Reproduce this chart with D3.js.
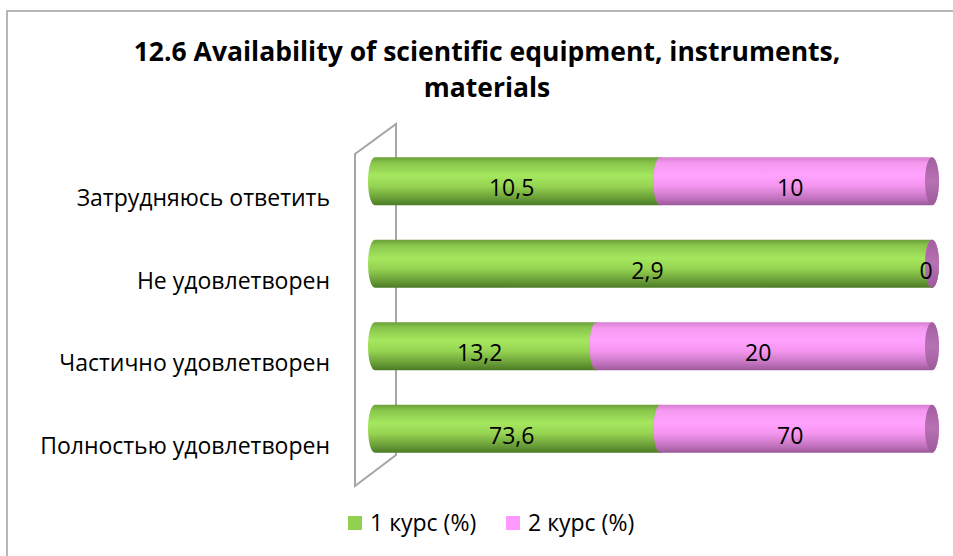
<!DOCTYPE html>
<html>
<head>
	<meta charset="utf-8">
	<title>12.6 Availability</title>
	<script src="https://cdn.jsdelivr.net/npm/d3@7"></script>
	<style>
		body{ margin:0; background:#fff; }
		svg text{ font-family: "Open Sans", Lato, sans-serif; fill:#000; }
	</style>
</head>
<body>
<div id="chart"></div>
<script>
	// data
	var categories = ['Полностью удовлетворен', 'Частично удовлетворен', 'Не удовлетворен', 'Затрудняюсь ответить'];
	var course1 = [73.6, 13.2, 2.9, 10.5];
	var course2 = [70, 20, 0, 10];
	var seriesNames = ['1 курс (%)', '2 курс (%)'];
	var titleLines = ['12.6 Availability of scientific equipment, instruments,', 'materials'];

	var W = 953, H = 556;
	var svg = d3.select('#chart').append('svg').attr('width', W).attr('height', H);

	var rows = categories.map(function(c, i){ return {cat:c, s0:course1[i], s1:course2[i]}; });
	var stack = d3.stack().keys(['s0', 's1']).offset(d3.stackOffsetExpand);
	var layers = stack(rows);

	var x = d3.scaleLinear().domain([0, 1]).range([375, 932]);
	var y = d3.scaleBand().domain(categories).range([470, 140]).paddingInner(0.418).paddingOuter(0.209);
	var rx = 7;

	var defs = svg.append('defs');
	function grad(id, stops){
		var g = defs.append('linearGradient').attr('id', id).attr('x1', 0).attr('y1', 0).attr('x2', 0).attr('y2', 1);
		stops.forEach(function(s){ g.append('stop').attr('offset', s[0]).attr('stop-color', s[1]); });
	}
	grad('g0', [['0%','#6a9f37'],['12%','#88c64c'],['38%','#a5e75e'],['60%','#96d452'],['85%','#6a9e38'],['100%','#4b7b25']]);
	grad('g1', [['0%','#d77ed0'],['12%','#f499ef'],['38%','#ffa2ff'],['60%','#f495ef'],['85%','#c474c0'],['100%','#9a5a98']]);
	grad('c0', [['0%','#6f9c40'],['50%','#86b854'],['100%','#5f8a35']]);
	grad('c1', [['0%','#a25ea0'],['50%','#b672b3'],['100%','#9c5a9a']]);

	// outer border
	svg.append('rect').attr('x', 7).attr('y', 11).attr('width', 980).attr('height', 580)
		.attr('fill', 'none').attr('stroke', '#a0a0a0').attr('stroke-width', 1.5);

	// title
	svg.append('text').attr('x', 487).attr('y', 61).attr('text-anchor', 'middle')
		.style('font-size', '26.5px').style('font-weight', 'bold')
		.selectAll('tspan').data(titleLines).enter().append('tspan')
		.attr('x', 487).attr('dy', function(d, i){ return i ? 36 : 0; })
		.text(function(d){ return d; });

	// side wall
	var wall = svg.append('g').attr('stroke', '#a6a6a6').attr('stroke-width', 2).attr('fill', 'none');
	wall.append('path').attr('d', 'M355,486 L355,154 L396,124 L396,455 Z');

	// cylinders
	function body(a, b, t, h){
		return 'M' + a + ',' + t + ' L' + b + ',' + t +
			' A' + rx + ',' + (h/2) + ' 0 0 1 ' + b + ',' + (t + h) +
			' L' + a + ',' + (t + h) +
			' A' + rx + ',' + (h/2) + ' 0 0 1 ' + a + ',' + t + ' Z';
	}
	var h = y.bandwidth();
	layers.forEach(function(layer, li){
		var g = svg.append('g');
		g.selectAll('path.body').data(layer).enter().append('path')
			.attr('class', 'body')
			.attr('d', function(d){ return body(x(d[0]), x(d[1]), y(d.data.cat), h); })
			.attr('fill', 'url(#g' + li + ')');
		g.selectAll('ellipse').data(layer).enter().append('ellipse')
			.attr('cx', function(d){ return x(d[1]); })
			.attr('cy', function(d){ return y(d.data.cat) + h/2; })
			.attr('rx', rx).attr('ry', h/2)
			.attr('fill', 'url(#c' + li + ')');
	});

	// value labels
	var keys = ['s0', 's1'];
	layers.forEach(function(layer, li){
		svg.append('g').selectAll('text').data(layer).enter().append('text')
			.attr('x', function(d){ return (x(d[0]) + x(d[1]))/2 - 6; })
			.attr('y', function(d){ return y(d.data.cat) + h/2 + 15; })
			.attr('text-anchor', 'middle')
			.style('font-size', '23px')
			.text(function(d){ return String(d.data[keys[li]]).replace('.', ','); });
	});

	// category labels
	svg.append('g').selectAll('text').data(categories).enter().append('text')
		.attr('x', 330)
		.attr('y', function(d){ return y(d) + h/2 + 25; })
		.attr('text-anchor', 'end')
		.style('font-size', '23px')
		.text(function(d){ return d; });

	// legend
	var legX = [348, 506];
	var leg = svg.append('g').selectAll('g').data(seriesNames).enter().append('g')
		.attr('transform', function(d, i){ return 'translate(' + legX[i] + ',516)'; });
	leg.append('rect').attr('width', 14).attr('height', 14)
		.attr('fill', function(d, i){ return i ? '#ff99ff' : '#92d050'; });
	leg.append('text').attr('x', 22).attr('y', 15).style('font-size', '23px')
		.text(function(d){ return d; });
</script>
</body>
</html>
